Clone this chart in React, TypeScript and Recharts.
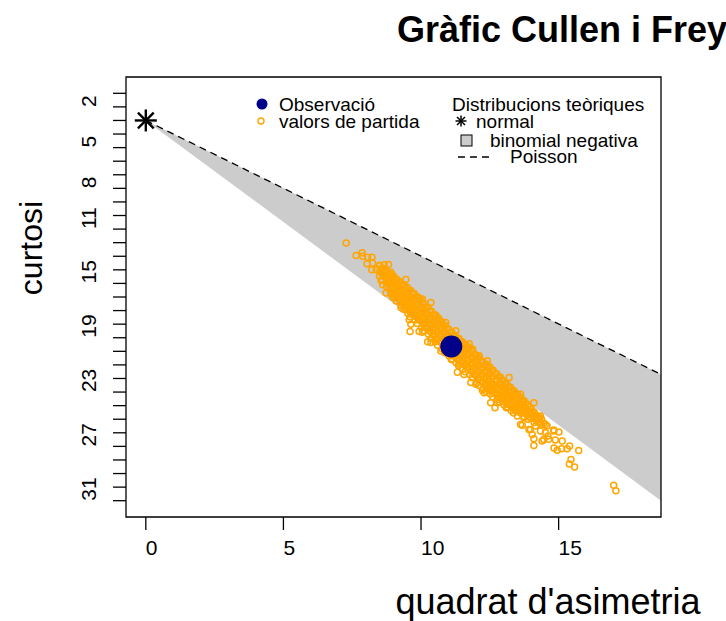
import React from 'react';
import { ComposedChart, XAxis, YAxis, Area, Line, Scatter, ReferenceArea } from 'recharts';

const FONT = '"Liberation Sans", Arial, Helvetica, sans-serif';

// axis values
const xTicks = [0, 5, 10, 15];
const yTicks = [1, 2, 3, 4, 5, 6, 7, 8, 9, 10, 11, 12, 13, 14, 15, 16, 17, 18, 19, 20, 21, 22, 23, 24, 25, 26, 27, 28, 29, 30, 31];
const yTickLabels = [2, 5, 8, 11, 15, 19, 23, 27, 31];
const xDomain = [-0.72, 18.72];
const yDomain = [-0.2, 32.2];

// theoretical region, read at x = 0 and at the right border
const theoX = [0, 18.72];
const poissonK = [3, 21.7];
const nbinomLowK = [3, 31.0];

const normalPoint = [[0, 3]];
const observation = [[11.1, 19.65]];

// bootstrap values: dense band
const bootCore = [
  [8.5, 13.68], [8.51, 14.08], [8.49, 14.45],
  [8.62, 13.9], [8.63, 14.32], [8.6, 14.78],
  [8.75, 14.1], [8.74, 14.5], [8.76, 14.92], [8.75, 15.2],
  [8.88, 14.3], [8.87, 14.72], [8.89, 15.15], [8.88, 15.55],
  [9.0, 14.45], [9.01, 14.9], [8.99, 15.3], [9.0, 15.75], [9.02, 16.05],
  [9.12, 14.7], [9.11, 15.15], [9.13, 15.58], [9.12, 16.0], [9.1, 16.3],
  [9.25, 14.9], [9.26, 15.38], [9.24, 15.82], [9.25, 16.25], [9.27, 16.6],
  [9.38, 15.1], [9.37, 15.6], [9.39, 16.05], [9.38, 16.5], [9.36, 16.9],
  [9.5, 15.3], [9.51, 15.8], [9.49, 16.28], [9.5, 16.75], [9.52, 17.2],
  [9.62, 15.5], [9.61, 16.0], [9.63, 16.48], [9.62, 16.95], [9.6, 17.45],
  [9.75, 15.75], [9.76, 16.25], [9.74, 16.75], [9.75, 17.2], [9.77, 17.7],
  [9.88, 16.0], [9.87, 16.5], [9.89, 17.0], [9.88, 17.5], [9.86, 17.95],
  [10.0, 16.25], [10.01, 16.75], [9.99, 17.25], [10.0, 17.75], [10.02, 18.25],
  [10.12, 16.5], [10.11, 17.0], [10.13, 17.5], [10.12, 17.98], [10.1, 18.48],
  [10.25, 16.78], [10.26, 17.3], [10.24, 17.8], [10.25, 18.28], [10.27, 18.75],
  [10.38, 17.05], [10.37, 17.55], [10.39, 18.05], [10.38, 18.55], [10.36, 19.05],
  [10.5, 17.3], [10.51, 17.8], [10.49, 18.3], [10.5, 18.8], [10.52, 19.3],
  [10.62, 17.55], [10.61, 18.05], [10.63, 18.55], [10.62, 19.05], [10.6, 19.55],
  [10.75, 17.85], [10.76, 18.35], [10.74, 18.85], [10.75, 19.35], [10.77, 19.82],
  [10.88, 18.1], [10.87, 18.6], [10.89, 19.1], [10.88, 19.6], [10.86, 20.1],
  [11.0, 18.35], [11.01, 18.85], [10.99, 19.35], [11.0, 19.85], [11.02, 20.35],
  [11.12, 18.6], [11.11, 19.1], [11.13, 19.6], [11.12, 20.1], [11.1, 20.6],
  [11.25, 18.85], [11.26, 19.35], [11.24, 19.85], [11.25, 20.35], [11.27, 20.85],
  [11.38, 19.05], [11.37, 19.55], [11.39, 20.05], [11.38, 20.55], [11.36, 21.05],
  [11.5, 19.3], [11.51, 19.8], [11.49, 20.3], [11.5, 20.8], [11.52, 21.3],
  [11.62, 19.5], [11.61, 20.0], [11.63, 20.5], [11.62, 21.0], [11.6, 21.5],
  [11.75, 19.7], [11.76, 20.2], [11.74, 20.7], [11.75, 21.2], [11.77, 21.7],
  [11.88, 19.95], [11.87, 20.45], [11.89, 20.95], [11.88, 21.45], [11.86, 21.95],
  [12.0, 20.3], [12.01, 20.8], [11.99, 21.3], [12.0, 21.8], [12.02, 22.3],
  [12.12, 20.5], [12.11, 21.0], [12.13, 21.5], [12.12, 22.0], [12.1, 22.5],
  [12.25, 20.75], [12.26, 21.25], [12.24, 21.75], [12.25, 22.25], [12.27, 22.75],
  [12.38, 20.95], [12.37, 21.45], [12.39, 21.95], [12.38, 22.45], [12.36, 22.95],
  [12.5, 21.15], [12.51, 21.65], [12.49, 22.15], [12.5, 22.65], [12.52, 23.15],
  [12.62, 21.4], [12.61, 21.9], [12.63, 22.4], [12.62, 22.9], [12.6, 23.35],
  [12.75, 21.65], [12.76, 22.15], [12.74, 22.6], [12.75, 23.1], [12.77, 23.55],
  [12.88, 21.9], [12.87, 22.35], [12.89, 22.85], [12.88, 23.3], [12.86, 23.75],
  [13.0, 22.15], [13.01, 22.6], [12.99, 23.05], [13.0, 23.5], [13.02, 23.95],
  [13.12, 22.4], [13.11, 22.85], [13.13, 23.25], [13.12, 23.7], [13.1, 24.15],
  [13.25, 22.65], [13.26, 23.1], [13.24, 23.5], [13.25, 23.95], [13.27, 24.35],
  [13.38, 22.9], [13.37, 23.3], [13.39, 23.7], [13.38, 24.15], [13.36, 24.55],
  [13.5, 23.15], [13.51, 23.55], [13.49, 23.95], [13.5, 24.35],
  [13.62, 23.4], [13.61, 23.8], [13.63, 24.15], [13.62, 24.55],
  [13.75, 23.65], [13.76, 24.05], [13.74, 24.4], [13.75, 24.8],
  [13.88, 23.95], [13.87, 24.3], [13.89, 24.65], [13.88, 25.0],
  [14.0, 24.25], [14.01, 24.6], [13.99, 24.95],
  [14.12, 24.5], [14.13, 24.9], [14.11, 25.25],
  [14.25, 24.8], [14.26, 25.2],
  [14.38, 25.0], [14.37, 25.4],
];

// bootstrap values: dense band, points lying between the ones above
const bootCoreMid = [
  [8.56, 13.88], [8.57, 14.27],
  [8.68, 14.11], [8.69, 14.55],
  [8.81, 14.3], [8.8, 14.7], [8.82, 15.06],
  [8.94, 14.51], [8.95, 14.93], [8.93, 15.35],
  [9.06, 14.68], [9.07, 15.1], [9.05, 15.52], [9.06, 15.9],
  [9.18, 14.92], [9.19, 15.36], [9.17, 15.79], [9.18, 16.15],
  [9.31, 15.14], [9.32, 15.6], [9.3, 16.03], [9.31, 16.42],
  [9.44, 15.35], [9.45, 15.82], [9.43, 16.27], [9.44, 16.7],
  [9.56, 15.55], [9.57, 16.04], [9.55, 16.51], [9.56, 16.97],
  [9.68, 15.75], [9.69, 16.24], [9.67, 16.71], [9.68, 17.2],
  [9.81, 16.0], [9.82, 16.5], [9.8, 16.97], [9.81, 17.45],
  [9.94, 16.25], [9.95, 16.75], [9.93, 17.25], [9.94, 17.72],
  [10.06, 16.5], [10.07, 17.0], [10.05, 17.5], [10.06, 18.0],
  [10.18, 16.75], [10.19, 17.25], [10.17, 17.74], [10.18, 18.23],
  [10.31, 17.04], [10.32, 17.55], [10.3, 18.04], [10.31, 18.51],
  [10.44, 17.3], [10.45, 17.8], [10.43, 18.3], [10.44, 18.8],
  [10.56, 17.55], [10.57, 18.05], [10.55, 18.55], [10.56, 19.05],
  [10.68, 17.8], [10.69, 18.3], [10.67, 18.8], [10.68, 19.3],
  [10.81, 18.1], [10.82, 18.6], [10.8, 19.1], [10.81, 19.58],
  [10.94, 18.35], [10.95, 18.85], [10.93, 19.35], [10.94, 19.85],
  [11.06, 18.6], [11.07, 19.1], [11.05, 19.6], [11.06, 20.1],
  [11.18, 18.85], [11.19, 19.35], [11.17, 19.85], [11.18, 20.35],
  [11.31, 19.05], [11.32, 19.55], [11.3, 20.05], [11.31, 20.55],
  [11.44, 19.3], [11.45, 19.8], [11.43, 20.3], [11.44, 20.8],
  [11.56, 19.5], [11.57, 20.0], [11.55, 20.5], [11.56, 21.0],
  [11.68, 19.7], [11.69, 20.2], [11.67, 20.7], [11.68, 21.2],
  [11.81, 19.95], [11.82, 20.45], [11.8, 20.95], [11.81, 21.45],
  [11.94, 20.2], [11.95, 20.7], [11.93, 21.2], [11.94, 21.7],
  [12.06, 20.55], [12.07, 21.05], [12.05, 21.55], [12.06, 22.05],
  [12.18, 20.75], [12.19, 21.25], [12.17, 21.75], [12.18, 22.25],
  [12.31, 21.0], [12.32, 21.5], [12.3, 22.0], [12.31, 22.5],
  [12.44, 21.2], [12.45, 21.7], [12.43, 22.2], [12.44, 22.7],
  [12.56, 21.4], [12.57, 21.9], [12.55, 22.4], [12.56, 22.9],
  [12.68, 21.65], [12.69, 22.15], [12.67, 22.65], [12.68, 23.12],
  [12.81, 21.9], [12.82, 22.38], [12.8, 22.85], [12.81, 23.32],
  [12.94, 22.12], [12.95, 22.6], [12.93, 23.07], [12.94, 23.52],
  [13.06, 22.38], [13.07, 22.82], [13.05, 23.27], [13.06, 23.72],
  [13.18, 22.62], [13.19, 23.05], [13.17, 23.48], [13.18, 23.92],
  [13.31, 22.88], [13.32, 23.3], [13.3, 23.72], [13.31, 24.15],
  [13.44, 23.1], [13.45, 23.5], [13.43, 23.92], [13.44, 24.35],
  [13.56, 23.35], [13.57, 23.75], [13.55, 24.15],
  [13.68, 23.6], [13.69, 24.0], [13.67, 24.35],
  [13.81, 23.85], [13.82, 24.22], [13.8, 24.6],
  [13.94, 24.1], [13.95, 24.48], [13.93, 24.82],
  [14.06, 24.42], [14.07, 24.78],
  [14.18, 24.7], [14.19, 25.05],
  [14.31, 24.9], [14.32, 25.3],
];

// bootstrap values: scattered edges and tails
const bootEdge = [
  [7.28, 12.03], [7.64, 12.94], [7.86, 12.75], [7.88, 13.0], [8.06, 13.07],
  [8.22, 13.07], [8.04, 13.56], [8.24, 13.49], [8.49, 13.68], [8.67, 13.63],
  [8.82, 13.61], [8.21, 14.0], [8.37, 14.0], [8.6, 14.05], [8.91, 14.18],
  [8.55, 14.79], [8.61, 15.09], [8.85, 14.92], [8.97, 14.55], [9.45, 14.72],
  [8.73, 15.7], [8.91, 15.77], [9.09, 15.53], [9.33, 15.47], [9.57, 15.53],
  [8.97, 16.0], [9.51, 15.9], [9.93, 16.1], [10.05, 16.15], [9.27, 16.77],
  [9.45, 16.94], [9.63, 17.14], [9.81, 17.26], [10.18, 16.89], [10.36, 16.4],
  [9.57, 17.68], [9.63, 18.0], [9.6, 18.54], [9.93, 18.54], [10.05, 18.6],
  [10.3, 17.63], [10.54, 17.34], [10.66, 17.63], [10.9, 17.87], [10.24, 19.3],
  [10.36, 19.35], [10.54, 19.1], [10.72, 19.97], [11.14, 19.6], [11.26, 18.49],
  [11.75, 19.45], [11.87, 19.82], [12.11, 20.32], [12.41, 20.69], [11.14, 20.56],
  [11.38, 20.93], [11.32, 21.55], [11.56, 21.7], [11.81, 22.3], [11.99, 22.42],
  [12.23, 22.86], [12.29, 23.05], [12.53, 22.9], [12.59, 22.54], [12.89, 22.54],
  [13.2, 21.93], [13.08, 23.16], [13.26, 23.05], [13.62, 23.16], [12.53, 23.78],
  [12.77, 23.78], [12.69, 24.15], [13.14, 24.1], [13.44, 24.15], [13.68, 23.66],
  [14.1, 23.78], [13.8, 24.15], [13.5, 24.76], [13.74, 24.89], [14.0, 24.64],
  [14.28, 24.89], [14.52, 25.38], [13.62, 25.38], [13.92, 25.75], [14.16, 25.5],
  [14.04, 26.12], [14.34, 25.87], [14.52, 25.99], [14.82, 25.8], [14.1, 26.43],
  [14.46, 26.5], [14.34, 24.76], [14.46, 25.3], [14.58, 25.5], [13.68, 25.45],
  [13.98, 25.75], [14.1, 26.93], [14.61, 26.23], [14.83, 25.87], [15.01, 25.94],
  [14.4, 26.61], [14.64, 26.48], [14.88, 26.53], [15.13, 26.61], [14.83, 27.11],
  [14.95, 27.28], [15.11, 27.18], [15.31, 27.18], [15.4, 26.98], [15.73, 27.3],
  [15.45, 27.97], [15.39, 28.29], [15.58, 28.51], [17.0, 29.87], [17.08, 30.26],
];

const theoData = theoX.map((x, i) => ({ x, pois: poissonK[i], nb: [poissonK[i], nbinomLowK[i]] }));
const toPts = (arr: number[][]) => arr.map(([x, k]) => ({ x, k }));
const bootData = toPts([...bootCore, ...bootCoreMid, ...bootEdge]);

const HollowDot = (p: any) => (
  <circle cx={p.cx} cy={p.cy} r={3} fill="none" stroke="#FFA500" strokeWidth={1.5} />
);

const Asterisk = ({ cx, cy, s, w }: any) => (
  <g stroke="#000" strokeWidth={w} strokeLinecap="butt">
    <line x1={cx - s} y1={cy} x2={cx + s} y2={cy} />
    <line x1={cx} y1={cy - s} x2={cx} y2={cy + s} />
    <line x1={cx - s * 0.72} y1={cy - s * 0.72} x2={cx + s * 0.72} y2={cy + s * 0.72} />
    <line x1={cx - s * 0.72} y1={cy + s * 0.72} x2={cx + s * 0.72} y2={cy - s * 0.72} />
  </g>
);

const XTick = (props: any) => {
  const { x, y, payload } = props;
  return (
    <text x={x} y={y + 23} textAnchor="start" fontFamily={FONT} fontSize={21} fill="#000">
      {payload.value}
    </text>
  );
};

const YTick = (props: any) => {
  const { y, payload } = props;
  if (!yTickLabels.includes(payload.value)) return null;
  return (
    <text transform={`translate(96, ${y}) rotate(-90)`} textAnchor="start" fontFamily={FONT} fontSize={21} fill="#000">
      {payload.value}
    </text>
  );
};

export default function App() {
  return (
    <div style={{ position: 'absolute', left: 0, top: 0, width: 726, height: 621, background: '#fff' }}>
      <ComposedChart
        width={726}
        height={621}
        data={theoData}
        margin={{ top: 77, right: 65, bottom: 74, left: 66 }}
      >
        <XAxis
          type="number"
          dataKey="x"
          domain={xDomain}
          ticks={xTicks}
          allowDataOverflow
          axisLine={false}
          tickSize={13}
          tickLine={{ stroke: '#000', strokeWidth: 1.3 }}
          tick={<XTick />}
          height={30}
        />
        <YAxis
          type="number"
          dataKey="k"
          domain={yDomain}
          ticks={yTicks}
          reversed
          allowDataOverflow
          axisLine={false}
          tickSize={13}
          tickLine={{ stroke: '#000', strokeWidth: 1.3 }}
          tick={<YTick />}
          width={60}
          interval={0}
        />
        <Area
          dataKey="nb"
          type="linear"
          fill="#CCCCCC"
          fillOpacity={1}
          stroke="none"
          isAnimationActive={false}
        />
        <Line
          dataKey="pois"
          type="linear"
          stroke="#000"
          strokeWidth={1.3}
          strokeDasharray="7 5"
          dot={false}
          isAnimationActive={false}
        />
        <Scatter data={bootData} shape={<HollowDot />} isAnimationActive={false} />
        <Scatter
          data={toPts(observation)}
          shape={(p: any) => <circle cx={p.cx} cy={p.cy} r={11} fill="#00008B" />}
          isAnimationActive={false}
        />
        <Scatter
          data={toPts(normalPoint)}
          shape={(p: any) => <Asterisk cx={p.cx} cy={p.cy} s={11} w={2.4} />}
          isAnimationActive={false}
        />
        <ReferenceArea
          x1={xDomain[0]}
          x2={xDomain[1]}
          y1={yDomain[0]}
          y2={yDomain[1]}
          fill="none"
          stroke="#000"
          strokeWidth={1.3}
          ifOverflow="visible"
        />
      </ComposedChart>

      <svg
        width={726}
        height={621}
        style={{ position: 'absolute', left: 0, top: 0, pointerEvents: 'none' }}
        fontFamily={FONT}
      >
        <text x={397} y={42} fontSize={36} fontWeight="bold" fill="#000">Gràfic Cullen i Frey</text>
        <text x={548} y={614} fontSize={36} textAnchor="middle" fill="#000">quadrat d'asimetria</text>
        <text transform="translate(42, 248) rotate(-90)" fontSize={32} textAnchor="middle" fill="#000">curtosi</text>

        {/* legend: observed values */}
        <circle cx={262} cy={104} r={5.5} fill="#00008B" />
        <text x={279} y={111} fontSize={19} fill="#000">Observació</text>
        <circle cx={261} cy={121} r={3} fill="none" stroke="#FFA500" strokeWidth={1.4} />
        <text x={279} y={128} fontSize={19} fill="#000">valors de partida</text>

        {/* legend: theoretical distributions */}
        <text x={452} y={111} fontSize={19} fill="#000">Distribucions teòriques</text>
        <Asterisk cx={461} cy={121} s={5.5} w={1.5} />
        <text x={476} y={128} fontSize={19} fill="#000">normal</text>
        <rect x={461} y={135} width={11} height={11} fill="#CCCCCC" stroke="#000" strokeWidth={1} />
        <text x={490} y={147} fontSize={19} fill="#000">binomial negativa</text>
        <line x1={458} y1={157} x2={490} y2={157} stroke="#000" strokeWidth={1.3} strokeDasharray="7 5" />
        <text x={510} y={163} fontSize={19} fill="#000">Poisson</text>
      </svg>
    </div>
  );
}
